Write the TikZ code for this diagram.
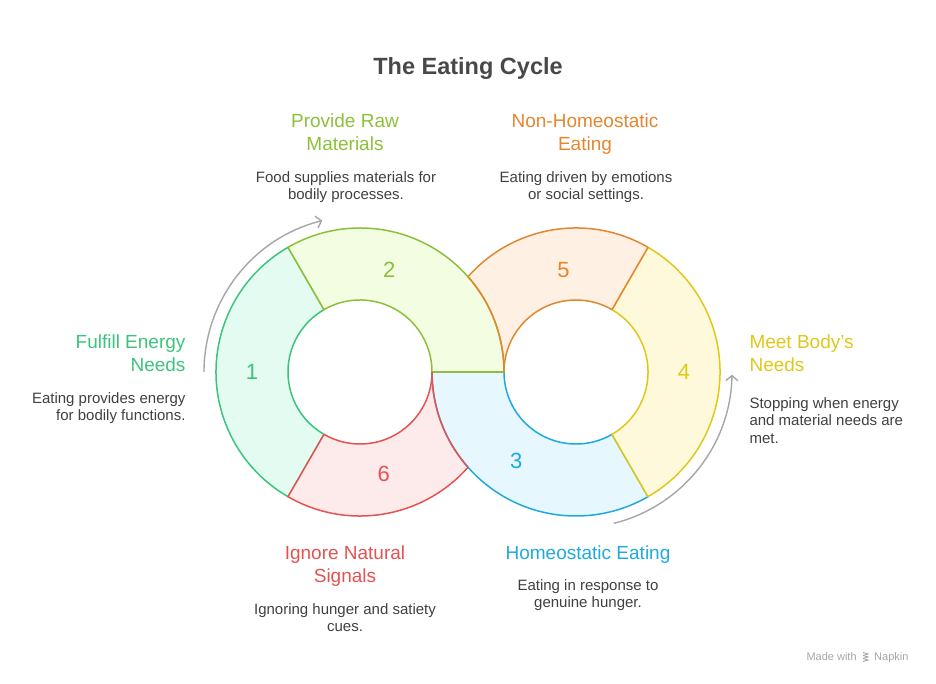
\documentclass[tikz,border=0pt]{standalone}
\usepackage{fontspec}
\setmainfont{Liberation Sans}
\usepackage{tikz}
\usetikzlibrary{calc,arrows.meta,positioning}
\definecolor{energygreen}{HTML}{3CC47C}
\definecolor{energyfill}{HTML}{E3FBF0}
\definecolor{rawgreen}{HTML}{8DC03A}
\definecolor{rawfill}{HTML}{F3FDE1}
\definecolor{homeoblue}{HTML}{1EAADF}
\definecolor{homeofill}{HTML}{E6F7FD}
\definecolor{needsyellow}{HTML}{E0C81A}
\definecolor{needsfill}{HTML}{FFF9DB}
\definecolor{nonhomeoorange}{HTML}{E4862F}
\definecolor{nonhomeofill}{HTML}{FEF0E3}
\definecolor{signalred}{HTML}{E45252}
\definecolor{signalfill}{HTML}{FDEAEA}
\definecolor{textgray}{HTML}{404040}
\definecolor{titlegray}{HTML}{484848}
\definecolor{arrowgray}{HTML}{A6A6A6}
\tikzset{
    ring-seg/.style = {line width=1.5pt, line join=round},
    seg-number/.style = {font=\fontsize{22}{22}\selectfont},
    step-title/.style = {font=\fontsize{19}{23.4}\selectfont, anchor=base},
    step-text/.style = {font=\fontsize{15}{17.6}\selectfont, text=textgray, anchor=base},
    cycle-arrow/.style = {draw=arrowgray, line width=1.4pt, -{Straight Barb[length=5pt,width=12pt]}},
}
% annular sector: center, start angle, end angle, stroke, fill
\newcommand{\ringseg}[5]{%
  \filldraw[ring-seg, draw=#4, fill=#5] ($(#1)+(#2:144)$) arc[start angle=#2, end angle=#3, radius=144]
    -- ($(#1)+(#3:72)$) arc[start angle=#3, end angle=#2, radius=72] -- cycle;}

\begin{document}
\begin{tikzpicture}[x=1pt, y=1pt]
\useasboundingbox (0,0) rectangle (936,684);
\coordinate (L) at (360,312);
\coordinate (R) at (576,312);

% title
\node[font=\fontsize{23.5}{24}\selectfont\bfseries, text=titlegray, anchor=base] (title) at (468,609) {The Eating Cycle};

% segments
\ringseg{L}{120}{240}{energygreen}{energyfill}
\ringseg{L}{240}{360}{signalred}{signalfill}
\ringseg{R}{180}{300}{homeoblue}{homeofill}
\ringseg{R}{-60}{60}{needsyellow}{needsfill}
\ringseg{R}{60}{180}{nonhomeoorange}{nonhomeofill}
\ringseg{L}{0}{120}{rawgreen}{rawfill}
\draw[ring-seg, nonhomeoorange] ($(L)+(0:144)$) arc[start angle=0, end angle=41.4, radius=144];
\draw[ring-seg, signalred] ($(R)+(180:144)$) arc[start angle=180, end angle=221.4, radius=144];

% numbers
\node[seg-number, text=energygreen] (n1) at ($(L)+(180:108)$) {1};
\node[seg-number, text=rawgreen] (n2) at ($(L)+(74:106)$) {2};
\node[seg-number, text=homeoblue] (n3) at ($(R)+(236:107)$) {3};
\node[seg-number, text=needsyellow] (n4) at ($(R)+(0:108)$) {4};
\node[seg-number, text=nonhomeoorange] (n5) at ($(R)+(97:103)$) {5};
\node[seg-number, text=signalred] (n6) at ($(L)+(-77:105)$) {6};

% cycle arrows
\coordinate (arrL) at ($(L)+(180:156)$);
\coordinate (arrR) at ($(R)+(-76:156)$);
\draw[cycle-arrow] (arrL) arc[start angle=180, end angle=104, radius=156];
\draw[cycle-arrow] (arrR) arc[start angle=-76, end angle=-1, radius=156];

% labels (base = last line)
\node[step-title, text=rawgreen, align=center] (raw) at (345,533) {Provide Raw\\Materials};
\node[step-text, align=center] (rawtxt) at (346,484) {Food supplies materials for\\bodily processes.};
\node[step-title, text=nonhomeoorange, align=center] (nonhomeo) at (585,533) {Non-Homeostatic\\Eating};
\node[step-text, align=center] (nonhomeotxt) at (586,484) {Eating driven by emotions\\or social settings.};
\node[step-title, text=energygreen, align=right, anchor=base east] (energy) at (189,312) {Fulfill Energy\\Needs};
\node[step-text, align=right, anchor=base east] (energytxt) at (189,263) {Eating provides energy\\for bodily functions.};
\node[step-title, text=needsyellow, align=left, anchor=base west] (needs) at (746,312) {Meet Body's\\Needs};
\node[step-text, align=left, anchor=base west] (needstxt) at (746,240.5) {Stopping when energy\\and material needs are\\met.};
\node[step-title, text=signalred, align=center] (signals) at (345,101) {Ignore Natural\\Signals};
\node[step-text, align=center] (signalstxt) at (345,52) {Ignoring hunger and satiety\\cues.};
\node[step-title, text=homeoblue, align=center] (homeo) at (588,124) {Homeostatic Eating};
\node[step-text, align=center] (homeotxt) at (588,76) {Eating in response to\\genuine hunger.};

% footer
\node[font=\fontsize{11}{11}\selectfont, text=arrowgray, anchor=base west] (madewith) at (803,23) {Made with};
\node[font=\fontsize{11}{11}\selectfont, text=arrowgray, anchor=base east] (napkin) at (912,23) {Napkin};
\coordinate (logo) at (866,27);
\foreach \dy in {-3,0,3}
  \draw[arrowgray, line width=0.9pt] ($(logo)+(-3,\dy+1.5)$) -- ($(logo)+(2,\dy)$) -- ($(logo)+(-3,\dy-1.5)$);
\end{tikzpicture}
\end{document}
